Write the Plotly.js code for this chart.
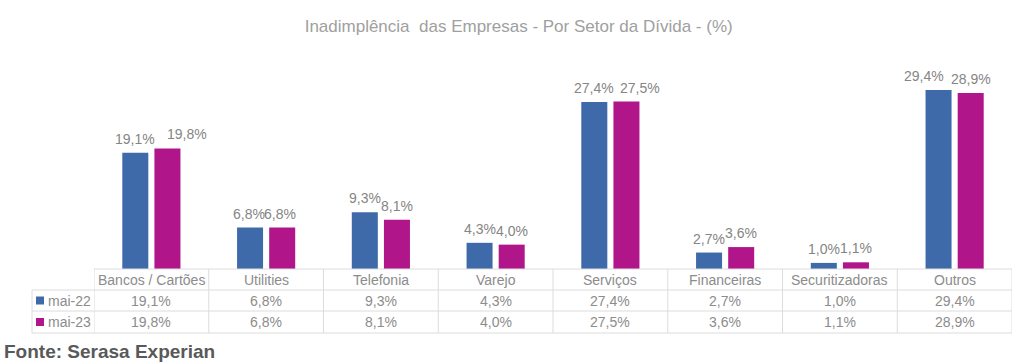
<!DOCTYPE html>
<html><head><meta charset="utf-8">
<script src="https://cdn.plot.ly/plotly-3.0.1.min.js"></script>
<style>body{margin:0;background:#fff}#c{width:1015px;height:363px}</style>
</head><body><div id="c"></div>
<script>
const categories = ["Bancos / Cartões","Utilities","Telefonia","Varejo","Serviços","Financeiras","Securitizadoras","Outros"];
const seriesNames = ["mai-22","mai-23"];
const mai22 = [19.1,6.8,9.3,4.3,27.4,2.7,1.0,29.4];
const mai23 = [19.8,6.8,8.1,4.0,27.5,3.6,1.1,28.9];
const colors = ["#3f6aaa","#b0168a"];
// manual horizontal nudges of data labels (px), as in the original chart
const labelNudgeX = [[0,-1,0,0,0,0,0,-15],[20,-2,0,0,14,0,0,0]];

const L=94, R=1012, T=68, B=269, W=1015, H=363;
const ph = B-T, pw = R-L;
const py = p => (B-p)/ph;
const pxp = p => (p-L)/pw;
const fmt = v => v.toFixed(1).replace('.',',')+'%';
const txtCol = "#8c8c8c", gridCol = "#dcdcdc";
const bargap = 0.44, bargroupgap = 0.19;
const slot = (pw/categories.length)*(1-bargap)/2;

const traces = [mai22, mai23].map((vals,i)=>({
  type:'bar', x:categories, y:vals, name:seriesNames[i],
  marker:{color:colors[i], line:{color:colors[i], width:0}},
  hoverinfo:'none'
}));

const shapes=[], ann=[];
[mai22,mai23].forEach((vals,i)=>{
  vals.forEach((v,j)=>{
    ann.push({xref:'x',yref:'y',x:categories[j],y:v,text:fmt(v),showarrow:false,
      xshift:(i===0?-1:1)*slot/2+labelNudgeX[i][j], yshift:4, xanchor:'center', yanchor:'bottom',
      font:{family:'Liberation Sans, Arial',size:14,color:'#858585'}});
  });
});
[269,290,311,333].forEach((yy,k)=>{
  shapes.push({type:'line', xref:'paper', yref:'paper', x0: k===0?0:pxp(32), x1:1, y0:py(yy), y1:py(yy), line:{color:gridCol,width:1}});
});
for(let j=0;j<=categories.length;j++){
  shapes.push({type:'line', xref:'x', yref:'paper', x0:j-0.5, x1:j-0.5, y0:py(269), y1:py(333), line:{color:gridCol,width:1}});
}
shapes.push({type:'line', xref:'paper', yref:'paper', x0:pxp(32), x1:pxp(32), y0:py(290), y1:py(333), line:{color:gridCol,width:1}});

const rowY=[279.5,300.5,322];
const tf = {family:'Liberation Sans, Arial',size:14,color:txtCol};
categories.forEach((c,j)=>{
  ann.push({xref:'x',yref:'paper',x:j,y:py(rowY[0]),text:c,showarrow:false,font:tf,xanchor:'center',yanchor:'middle'});
  [mai22,mai23].forEach((vals,i)=>{
    ann.push({xref:'x',yref:'paper',x:j,y:py(rowY[i+1]),text:fmt(vals[j]),showarrow:false,font:tf,xanchor:'center',yanchor:'middle'});
  });
});
seriesNames.forEach((n,i)=>{
  shapes.push({type:'rect', xref:'paper', yref:'paper', x0:pxp(36), x1:pxp(44), y0:py(rowY[i+1]-4), y1:py(rowY[i+1]+4), fillcolor:colors[i], line:{width:0}});
  ann.push({xref:'paper',yref:'paper',x:pxp(46),y:py(rowY[i+1]),text:n,showarrow:false,font:tf,xanchor:'left',yanchor:'middle'});
});
ann.push({xref:'paper',yref:'paper',x:pxp(2),y:py(351),text:'<b>Fonte: Serasa Experian</b>',showarrow:false,font:{family:'Liberation Sans, Arial',size:19,color:'#595959'},xanchor:'left',yanchor:'middle'});

const layout={
  width:W,height:H,margin:{l:L,r:W-R,t:T,b:H-B},
  paper_bgcolor:'#fff',plot_bgcolor:'#fff',
  title:{text:'Inadimplência  das Empresas - Por Setor da Dívida - (%)',x:0.511,xanchor:'center',y:1-26/H,yanchor:'middle',font:{family:'Liberation Sans, Arial',size:17,color:'#a0a0a0'}},
  showlegend:false, barmode:'group', bargap:bargap, bargroupgap:bargroupgap,
  separators:',.',
  xaxis:{type:'category',range:[-0.5,7.5],showticklabels:false,showgrid:false,zeroline:false,showline:false,ticks:''},
  yaxis:{range:[0,33],showticklabels:false,showgrid:false,zeroline:false,showline:false,ticks:''},
  shapes:shapes, annotations:ann
};
Plotly.newPlot('c',traces,layout,{displayModeBar:false,staticPlot:true});
</script></body></html>
